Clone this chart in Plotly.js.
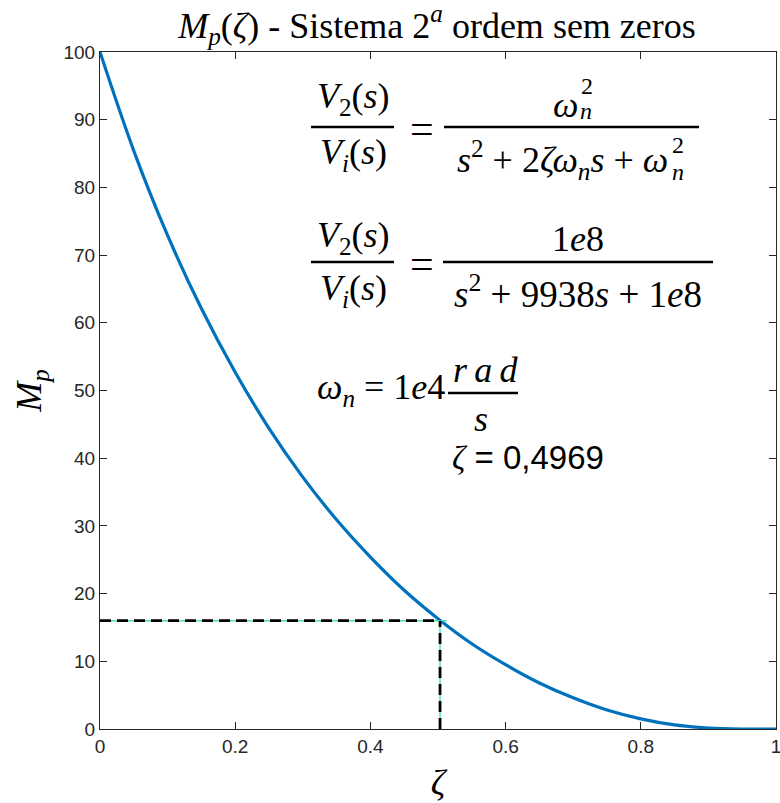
<!DOCTYPE html>
<html><head><meta charset="utf-8">
<script src="https://cdn.plot.ly/plotly-3.0.1.min.js"></script>
<style>body{margin:0;padding:0;background:#fff}#chart{width:780px;height:803px}</style>
</head><body><div id="chart"></div>
<script>
// Data
const zeta = [0,0.05,0.1,0.15,0.2,0.25,0.3,0.35,0.4,0.45,0.5,0.55,0.6,0.65,0.7,0.75,0.8,0.85,0.9,0.95,1.0];
const mp   = [100,85.4,72.9,62.1,52.7,44.4,37.2,30.9,25.4,20.5,16.3,12.6,9.5,6.8,4.6,2.8,1.5,0.6,0.15,0.0,0.0];
const markZeta = [0.503];
const markMp = [16.0];
const xTicks = [0,0.2,0.4,0.6,0.8,1];
const xTickText = ['0','0.2','0.4','0.6','0.8','1'];
const yTicks = [0,10,20,30,40,50,60,70,80,90,100];

const L=100,R=776,T=52,B=729;
const px=x=>(x-L)/(R-L), py=y=>(B-y)/(B-T);
const serif='Liberation Serif, Times New Roman, serif';
const sans='Liberation Sans, Arial, Helvetica, sans-serif';
const th='\u2009';

const traces=[
 {x:zeta,y:mp,type:'scatter',mode:'lines',line:{color:'#0072BD',width:3.2,shape:'spline',smoothing:1},hoverinfo:'skip'},
 {x:[0,markZeta[0]+0.01],y:[markMp[0],markMp[0]],mode:'lines',line:{color:'#4fe0b8',width:1.5},hoverinfo:'skip'},
 {x:[markZeta[0],markZeta[0]],y:[0,markMp[0]],mode:'lines',line:{color:'#4fe0b8',width:1.5},hoverinfo:'skip'},
 {x:[0,markZeta[0]],y:[markMp[0],markMp[0]],mode:'lines',line:{color:'#000',width:2.8,dash:'11px,6px'},hoverinfo:'skip'},
 {x:[markZeta[0],markZeta[0]],y:[0,markMp[0]],mode:'lines',line:{color:'#000',width:2.8,dash:'11px,6px'},hoverinfo:'skip'}
];

function ann(text,x,y,size,opts){
  return Object.assign({text:text,xref:'paper',yref:'paper',x:px(x),y:py(y),xanchor:'center',yanchor:'middle',showarrow:false,font:{family:serif,size:size||36,color:'#000'}},opts||{});
}
const annotations=[
 // equation 1
 ann('<i>V</i><sub>2</sub>(<i>s</i>)',353,99),
 ann('<i>V<sub>i</sub></i>(<i>s</i>)',353,154),
 ann('=',422,129,42),
 ann('<i>ω</i>',565,105),
 ann('2',587,86,24),
 ann('<i>n</i>',586,111,24),
 ann('<i>s</i><sup>2</sup> + 2<i>ζω</i><sub><i>n</i></sub><i>s</i> + <i>ω</i>',670,160,36,{xanchor:'right'}),
 ann('2',678,145,24),
 ann('<i>n</i>',678,172,24),
 // equation 2
 ann('<i>V</i><sub>2</sub>(<i>s</i>)',353,237),
 ann('<i>V<sub>i</sub></i>(<i>s</i>)',353,290),
 ann('=',422,264,42),
 ann('1<i>e</i>8',578,239),
 ann('<i>s</i><sup>2</sup> + 9938<i>s</i> + 1<i>e</i>8',578,291,37),
 // omega_n
 ann('<i>ω</i><sub><i>n</i></sub> = 1<i>e</i>4',447,390,36,{xanchor:'right'}),
 ann('<i>r'+th+'a'+th+'d</i>',485,370),
 ann('<i>s</i>',481,419),
 ann('<span style="font-family:Liberation Serif"><i>ζ</i></span> = 0,4969',528,457,33,{font:{family:sans,size:33,color:'#000'}})
];
const bar=(x0,x1,y)=>({type:'line',xref:'paper',yref:'paper',x0:px(x0),x1:px(x1),y0:py(y),y1:py(y),line:{color:'#000',width:2.6}});
const shapes=[bar(311,394,127),bar(444,699,127),bar(311,394,262),bar(443,713,262),bar(448,518,393)];

const axisCommon={showgrid:false,zeroline:false,showline:true,linecolor:'#262626',linewidth:1,mirror:'ticks',ticks:'inside',ticklen:7,tickwidth:1,tickcolor:'#262626',ticklabeloverflow:'allow',tickfont:{family:sans,size:19,color:'#262626'}};
const layout={
 width:780,height:803,margin:{l:L,r:780-R,t:T,b:803-B},
 paper_bgcolor:'#fff',plot_bgcolor:'#fff',showlegend:false,
 title:{text:'<i>M</i><sub><i>p</i></sub>(<i>ζ</i>) - Sistema 2<sup><i>a</i></sup> ordem sem zeros',font:{family:serif,size:36,color:'#000'},x:px(437),xref:'paper',xanchor:'center',y:1-25/803,yref:'container',yanchor:'middle'},
 xaxis:Object.assign({},axisCommon,{range:[0,1],tickvals:xTicks,ticktext:xTickText,title:{text:'<i>ζ</i>',font:{family:serif,size:36,color:'#000'},standoff:20}}),
 yaxis:Object.assign({},axisCommon,{range:[0,100],tickvals:yTicks,title:{text:'<i>M</i><sub><i>p</i></sub>',font:{family:serif,size:36,color:'#000'},standoff:10}}),
 annotations:annotations,shapes:shapes
};
Plotly.newPlot('chart',traces,layout,{staticPlot:true,displayModeBar:false});
</script></body></html>
